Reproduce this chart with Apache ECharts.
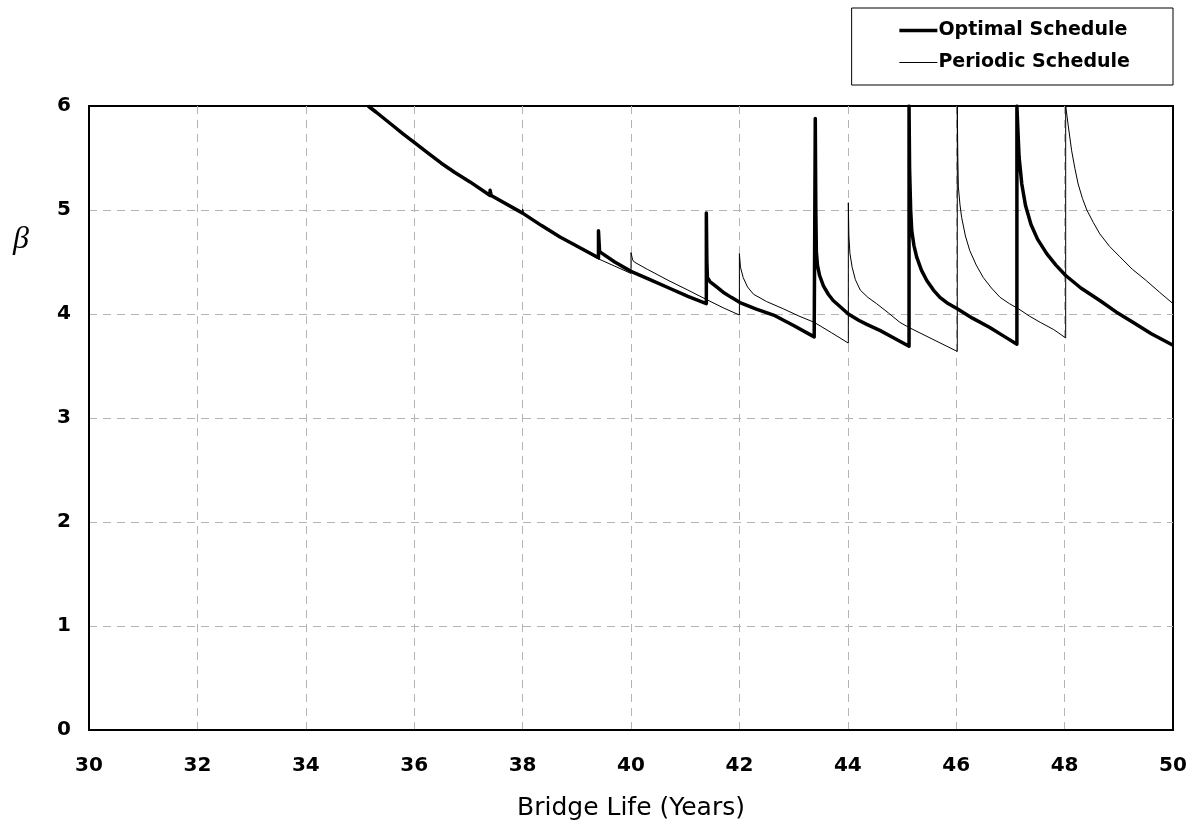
<!DOCTYPE html>
<html>
<head>
<meta charset="utf-8">
<title>Reliability index vs bridge life</title>
<script src="https://cdn.jsdelivr.net/npm/echarts@6/dist/echarts.min.js"></script>
<style>
    html, body { margin: 0; padding: 0; background: #fff; }
    #beta_chart { width: 1194px; height: 829px; }
</style>
</head>
<body>
<div id="beta_chart"></div>
<script>

// Data
// ------------------------------

var xTicks = [30, 32, 34, 36, 38, 40, 42, 44, 46, 48, 50];
var yTicks = [0, 1, 2, 3, 4, 5, 6];

// Optimal schedule (years / beta)
var optimalYears = [
    35.15, 35.30, 35.61, 35.80, 36.00, 36.25, 36.50, 36.75, 37.03, 37.40, 37.40, 37.42,
    38.00, 38.35, 38.69, 39.05, 39.40,
    39.40, 39.42, 39.70, 40.00, 40.35, 40.70, 41.05, 41.39,
    41.39, 41.40, 41.41, 41.46, 41.58, 41.70, 41.85, 42.01, 42.30, 42.63, 43.00, 43.38,
    43.40, 43.41, 43.42, 43.44, 43.48, 43.55, 43.64, 43.73, 43.86, 44.01, 44.20, 44.35, 44.60, 44.85, 45.13,
    45.13, 45.14, 45.16, 45.18, 45.22, 45.27, 45.36, 45.46, 45.58, 45.70, 45.85, 46.02, 46.30, 46.62, 46.90, 47.12,
    47.12, 47.14, 47.16, 47.21, 47.28, 47.38, 47.50, 47.67, 47.84, 48.02, 48.30, 48.65, 48.95, 49.26, 49.60, 50.00
];
var optimalBeta = [
    6.00, 5.94, 5.81, 5.73, 5.65, 5.55, 5.45, 5.36, 5.27, 5.14, 5.19, 5.14,
    4.97, 4.85, 4.74, 4.64, 4.54,
    4.80, 4.60, 4.50, 4.41, 4.33, 4.25, 4.17, 4.10,
    4.97, 4.50, 4.35, 4.31, 4.26, 4.21, 4.16, 4.11, 4.05, 3.99, 3.89, 3.78,
    5.88, 5.00, 4.60, 4.47, 4.37, 4.27, 4.19, 4.13, 4.07, 4.00, 3.94, 3.90, 3.84, 3.77, 3.69,
    6.00, 5.40, 5.00, 4.80, 4.66, 4.55, 4.42, 4.32, 4.23, 4.16, 4.10, 4.05, 3.96, 3.87, 3.78, 3.71,
    6.00, 5.75, 5.51, 5.25, 5.04, 4.86, 4.72, 4.58, 4.47, 4.37, 4.25, 4.13, 4.02, 3.92, 3.81, 3.70
];

// Periodic schedule (years / beta)
var periodicYears = [
    35.15, 35.30, 35.61, 35.80, 36.00, 36.25, 36.50, 36.75, 37.03, 37.40,
    38.00, 38.00, 38.02, 38.35, 38.69, 39.05, 39.40, 39.70, 40.00,
    40.00, 40.03, 40.06, 40.30, 40.70, 41.05, 41.39, 41.70, 42.00,
    42.00, 42.02, 42.07, 42.15, 42.26, 42.50, 42.81, 43.10, 43.38, 43.70, 44.01,
    44.01, 44.02, 44.04, 44.08, 44.14, 44.23, 44.37, 44.53, 44.75, 44.96, 45.13, 46.02,
    46.02, 46.03, 46.04, 46.07, 46.10, 46.17, 46.25, 46.37, 46.50, 46.65, 46.81, 46.98, 47.15, 47.35, 47.55, 47.80, 48.02,
    48.02, 48.07, 48.13, 48.19, 48.25, 48.33, 48.41, 48.53, 48.65, 48.83, 49.02, 49.25, 49.51, 49.75, 50.00
];
var periodicBeta = [
    6.00, 5.94, 5.81, 5.73, 5.65, 5.55, 5.45, 5.36, 5.27, 5.14,
    4.97, 5.01, 4.97, 4.85, 4.74, 4.63, 4.53, 4.46, 4.39,
    4.59, 4.52, 4.50, 4.43, 4.32, 4.23, 4.14, 4.06, 3.99,
    4.58, 4.45, 4.35, 4.26, 4.19, 4.12, 4.05, 3.98, 3.92, 3.82, 3.72,
    5.07, 4.75, 4.58, 4.45, 4.33, 4.23, 4.16, 4.10, 4.01, 3.92, 3.87, 3.64,
    6.00, 5.50, 5.22, 5.05, 4.93, 4.75, 4.61, 4.47, 4.35, 4.25, 4.16, 4.10, 4.05, 3.98, 3.92, 3.85, 3.77,
    6.00, 5.80, 5.57, 5.40, 5.25, 5.11, 5.00, 4.88, 4.77, 4.65, 4.55, 4.43, 4.32, 4.21, 4.10
];


// Setup chart
// ------------------------------

var BetaChart = function() {

    var _pairs = function(xs, ys) {
        return xs.map(function(x, i) { return [x, ys[i]]; });
    };

    var _betaChart = function() {
        if (typeof echarts == 'undefined') {
            console.warn('Warning - echarts.min.js is not loaded.');
            return;
        }

        var chart_element = document.getElementById('beta_chart');
        if (!chart_element) {
            return;
        }

        var beta_chart = echarts.init(chart_element);

        // Styles
        var labelFont = 'DejaVu Sans, Verdana, sans-serif',
            lineColor = '#000',
            gridColor = '#b4b4b4',
            thickWidth = 3.5,
            thinWidth = 1;

        beta_chart.setOption({
            animation: false,
            backgroundColor: '#fff',

            textStyle: {
                fontFamily: labelFont
            },

            grid: {
                left: 89,
                right: 21,
                top: 106,
                bottom: 99,
                show: true,
                borderColor: lineColor,
                borderWidth: 2,
                containLabel: false
            },

            legend: {
                orient: 'vertical',
                right: 21,
                top: 8,
                width: 235,
                padding: [13, 43, 13, 46],
                itemGap: 13,
                itemWidth: 38,
                itemHeight: 14,
                borderColor: lineColor,
                borderWidth: 1,
                borderRadius: 0,
                itemStyle: { opacity: 0 },
                textStyle: {
                    color: '#000',
                    fontSize: 19,
                    fontWeight: 'bold',
                    padding: [0, 0, 0, -4]
                },
                data: [
                    { name: 'Optimal Schedule', lineStyle: { color: lineColor, width: thickWidth } },
                    { name: 'Periodic Schedule', lineStyle: { color: lineColor, width: thinWidth } }
                ]
            },

            xAxis: {
                type: 'value',
                min: xTicks[0],
                max: xTicks[xTicks.length - 1],
                interval: 2,
                name: 'Bridge Life (Years)',
                nameLocation: 'middle',
                nameGap: 66,
                nameTextStyle: {
                    color: '#000',
                    fontSize: 25,
                    fontFamily: labelFont
                },
                axisLabel: {
                    color: '#000',
                    fontSize: 20,
                    fontWeight: 'bold',
                    margin: 26
                },
                axisTick: { show: false },
                axisLine: {
                    onZero: false,
                    lineStyle: { color: lineColor, width: 2 }
                },
                splitLine: {
                    show: true,
                    showMinLine: false,
                    showMaxLine: false,
                    lineStyle: { color: gridColor, type: [8, 6], width: 1 }
                }
            },

            yAxis: {
                type: 'value',
                min: yTicks[0],
                max: yTicks[yTicks.length - 1],
                interval: 1,
                axisLabel: {
                    color: '#000',
                    fontSize: 20,
                    fontWeight: 'bold',
                    margin: 18
                },
                axisTick: { show: false },
                axisLine: {
                    show: true,
                    lineStyle: { color: lineColor, width: 2 }
                },
                splitLine: {
                    show: true,
                    showMinLine: false,
                    showMaxLine: false,
                    lineStyle: { color: gridColor, type: [8, 6], width: 1 }
                }
            },

            // Greek beta as y title
            graphic: [
                {
                    type: 'text',
                    left: 13,
                    top: 224,
                    style: {
                        text: '\u03B2',
                        font: 'italic 32px "Liberation Serif", "DejaVu Serif", serif',
                        fill: '#000'
                    }
                }
            ],

            series: [
                {
                    name: 'Optimal Schedule',
                    type: 'line',
                    data: _pairs(optimalYears, optimalBeta),
                    showSymbol: false,
                    symbol: 'none',
                    clip: true,
                    z: 3,
                    itemStyle: { color: lineColor },
                    lineStyle: { color: lineColor, width: thickWidth, join: 'round' }
                },
                {
                    name: 'Periodic Schedule',
                    type: 'line',
                    data: _pairs(periodicYears, periodicBeta),
                    showSymbol: false,
                    symbol: 'none',
                    clip: true,
                    z: 2,
                    itemStyle: { color: lineColor },
                    lineStyle: { color: lineColor, width: thinWidth, join: 'round' }
                }
            ]
        });
    };

    return {
        init: function() {
            _betaChart();
        }
    }
}();

document.addEventListener('DOMContentLoaded', function() {
    BetaChart.init();
});
</script>
</body>
</html>
